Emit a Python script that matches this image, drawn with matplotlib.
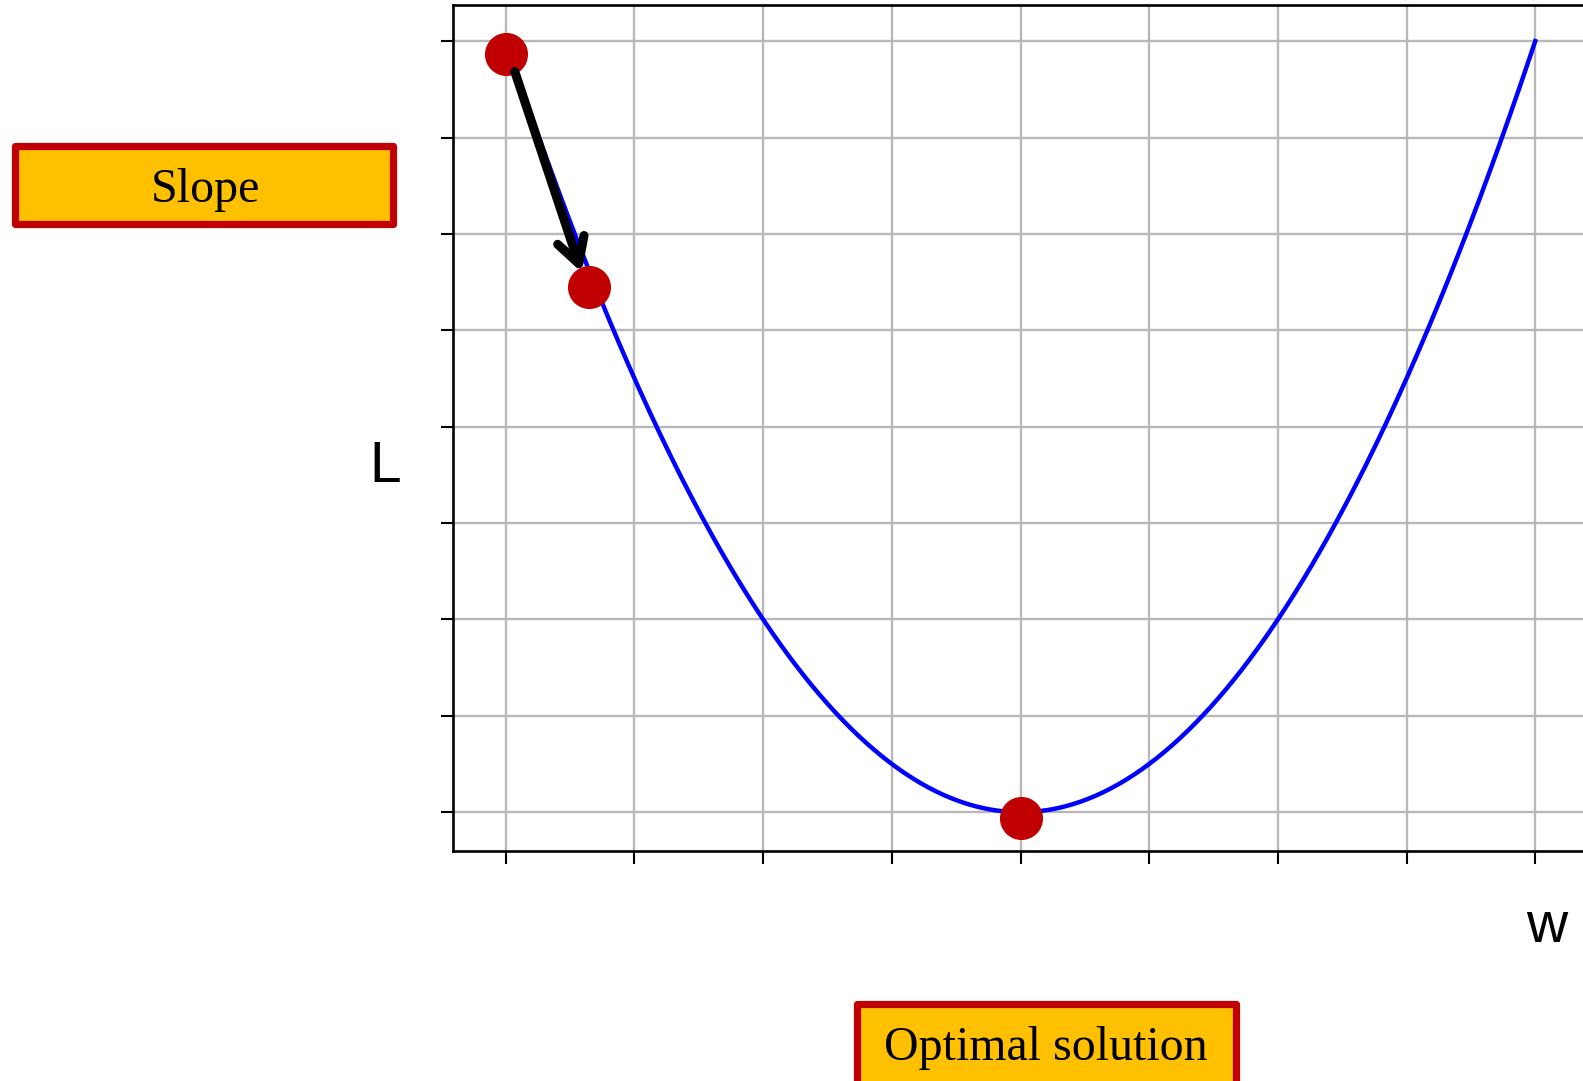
import matplotlib
matplotlib.use('Agg')
import matplotlib.pyplot as plt
import numpy as np
from matplotlib.patches import Rectangle

# Loss curve L(w) = w^2 sampled on the plotted range
w_vals = np.linspace(-4, 4, 401)
loss_vals = w_vals ** 2

# Gradient descent points (red dots) and the step arrow
dots_w = [-4.0, -3.35, 0.0]
dots_L = [15.73, 10.9, -0.12]
arrow_start = (-3.93, 15.37)
arrow_end = (-3.41, 11.2)

xticks = [-4, -3, -2, -1, 0, 1, 2, 3, 4]
yticks = [0, 2, 4, 6, 8, 10, 12, 14, 16]

W, H = 1583, 1081
fig = plt.figure(figsize=(W / 100, H / 100), dpi=100)

# axes run off the right edge of the picture, as in the reference
ax = fig.add_axes([453 / W, (H - 850.7) / H, (1588 - 453) / W, (850.7 - 4.5) / H])
ax.plot(w_vals, loss_vals, color='#0000ff', lw=3.2, zorder=2)
ax.plot(dots_w, dots_L, 'o', color='#c00000', markersize=30, zorder=4)
ax.annotate('', xy=arrow_end, xytext=arrow_start,
            arrowprops=dict(arrowstyle='->,head_length=1.8,head_width=1.0',
                            color='black', lw=6.5, shrinkA=0, shrinkB=0,
                            joinstyle='round', capstyle='round'),
            zorder=5)

ax.set_xlim(-4.41, 4.41)
ax.set_ylim(-0.8, 16.76)
ax.set_xticks(xticks)
ax.set_yticks(yticks)
ax.set_xticklabels([])
ax.set_yticklabels([])
ax.grid(True, color='#b8b8b8', lw=1.7)
ax.set_axisbelow(True)
ax.tick_params(length=9, width=1.5, color='black')
for s in ax.spines.values():
    s.set_linewidth(1.9)

fig.text(384.7 / W, (H - 482.3) / H, 'L', fontsize=41, family='Liberation Sans',
         ha='center', va='baseline')
fig.text(1546.3 / W, (H - 941.7) / H, 'w', fontsize=41, family='Liberation Sans',
         ha='center', va='baseline')

# orange labels with red border
boxes = [
    # x0, x1, y_top, y_bottom (pixels from top), text, text x, baseline
    (15.2, 393.2, 146.2, 223.8, 'Slope', 205, 201.7),
    (856.5, 1235.5, 1004.2, 1110, 'Optimal solution', 1046, 1060),
]
for x0, x1, yt, yb, label, tx, ty in boxes:
    rect = Rectangle((x0 / W, (H - yb) / H), (x1 - x0) / W, (yb - yt) / H,
                     transform=fig.transFigure, facecolor='#ffc000',
                     edgecolor='#c00000', lw=5.2, joinstyle='round',
                     clip_on=False)
    fig.add_artist(rect)
    fig.text(tx / W, (H - ty) / H, label, fontsize=34.5, family='Liberation Serif',
             ha='center', va='baseline')

fig.savefig('out.png', dpi=100)
